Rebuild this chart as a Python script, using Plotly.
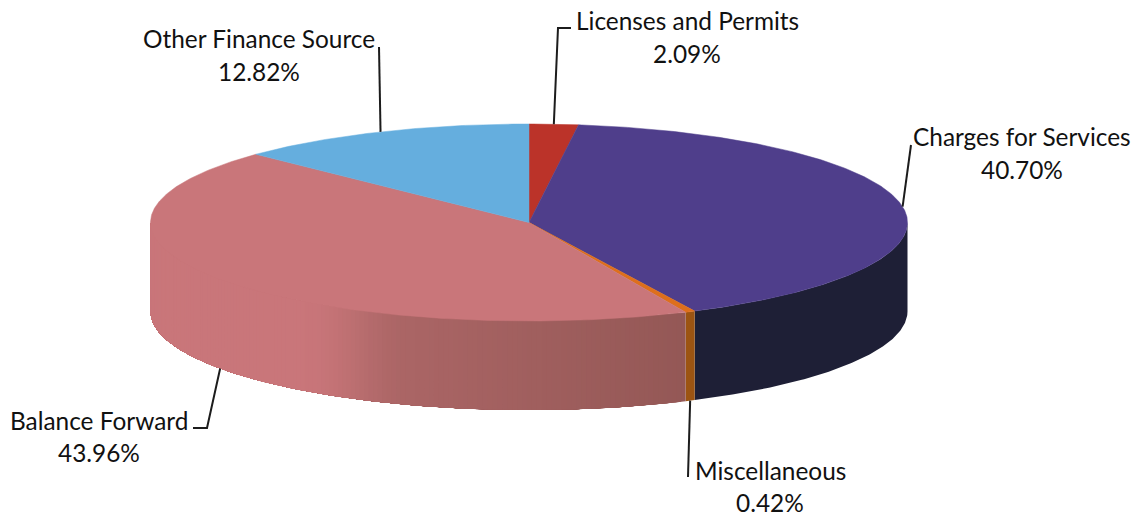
import numpy as np
import plotly.graph_objects as go

# Budget shares, clockwise from twelve o'clock
categories = ["Licenses and Permits", "Charges for Services", "Miscellaneous",
              "Balance Forward", "Other Finance Source"]
shares = [2.09, 40.70, 0.42, 43.96, 12.82]
top_colors = ["#bb3329", "#4f3e8b", "#de6f1c", "#c9767a", "#65aede"]
wall_colors = ["#8a251e", "#1e1f36", "#9c5412", "#a86262", "#3f7fa8"]

# Disc geometry in page pixels
CX, CY, RX, RY, DEPTH = 529.0, 222.5, 378.5, 98.5, 89.0


def rim(turn):
    """Point on the upper rim for an angle in degrees, clockwise from the top."""
    t = np.radians(turn)
    return CX + RX * np.sin(t), CY - RY * np.cos(t)


def mix(a, b, f):
    return tuple(a[i] + (b[i] - a[i]) * f for i in range(3))


def balance_shade(x):
    """Lit part on the left of the wall, falling into shadow towards the front."""
    light, mid, deep = (201, 118, 122), (170, 101, 101), (148, 88, 86)
    if x < 305:
        return light
    if x < 415:
        f = (x - 305) / 110
        return mix(light, mid, f * f * (3 - 2 * f))
    return mix(mid, deep, (x - 415) / 275)


def add_wall(fig, start, stop, color):
    """Wall panel from start to stop; later panels paint over earlier ones."""
    arc = np.linspace(start, stop, max(4, int(stop - start) * 2))
    xs, ys = rim(arc)
    fig.add_trace(go.Scatter(
        x=np.concatenate([xs, xs[::-1]]),
        y=np.concatenate([ys, ys[::-1] + DEPTH]),
        mode="lines", fill="toself", fillcolor=color,
        line=dict(width=0), hoverinfo="skip", showlegend=False))


edges = np.concatenate([[0], np.cumsum(shares)]) * 3.6
edges[-1] = 360
mids = (edges[:-1] + edges[1:]) / 2

fig = go.Figure()

# Side wall, front half only. Painted right to left so each panel overlaps the
# one before it and no background shows through the joints.
for i, name in enumerate(categories):
    lo, hi = max(edges[i], 90), min(edges[i + 1], 270)
    if hi <= lo:
        continue
    if name == "Balance Forward":
        for a in np.arange(lo, hi, 0.75):
            x_here = rim(a + 0.375)[0]
            add_wall(fig, a, hi, "rgb(%d,%d,%d)" % balance_shade(x_here))
    else:
        add_wall(fig, lo, hi, wall_colors[i])

# Top face
for i, name in enumerate(categories):
    arc = np.linspace(edges[i], edges[i + 1], max(3, int(edges[i + 1] - edges[i]) * 2))
    xs, ys = rim(arc)
    fig.add_trace(go.Scatter(
        x=np.concatenate([[CX], xs, [CX]]),
        y=np.concatenate([[CY], ys, [CY]]),
        mode="lines", fill="toself", fillcolor=top_colors[i],
        line=dict(color=top_colors[i], width=0.5), name=name,
        hoverinfo="skip", showlegend=False))

# Leader lines: start at the label, end at the slice's mid-angle on the visible edge
label_elbows = {
    "Licenses and Permits": [(571, 28), (558, 28)],
    "Charges for Services": [(911, 145)],
    "Miscellaneous": [(688, 477)],
    "Balance Forward": [(193, 428), (207, 428)],
    "Other Finance Source": [(379, 47)],
}
for i, name in enumerate(categories):
    ex, ey = rim(mids[i])
    if 90 < mids[i] < 270:
        ey += DEPTH
    pts = label_elbows[name] + [(float(ex), float(ey))]
    fig.add_trace(go.Scatter(
        x=[p[0] for p in pts], y=[p[1] for p in pts], mode="lines",
        line=dict(color="#1c1c1c", width=2), hoverinfo="skip", showlegend=False))

# Two-line labels: (centre x, name line y, value line y)
label_spots = {
    "Licenses and Permits": (687, 20, 53),
    "Charges for Services": (1022, 136, 169),
    "Miscellaneous": (770, 470, 502),
    "Balance Forward": (99, 420, 452),
    "Other Finance Source": (259, 38, 71),
}
annotations = []
for name, share in zip(categories, shares):
    x, y1, y2 = label_spots[name]
    for text, y in ((name, y1), (f"{share:.2f}%", y2)):
        annotations.append(dict(
            x=x, y=y, xref="x", yref="y", text=text, showarrow=False,
            xanchor="center", yanchor="middle",
            font=dict(family="Lato, Carlito, sans-serif", size=24.4, color="#111111")))

fig.update_layout(
    width=1144, height=517, margin=dict(l=0, r=0, t=0, b=0),
    paper_bgcolor="white", plot_bgcolor="white", showlegend=False,
    annotations=annotations,
    xaxis=dict(range=[0, 1144], visible=False, fixedrange=True),
    yaxis=dict(range=[517, 0], visible=False, fixedrange=True),
)
fig.write_html("out.html", config={"displayModeBar": False})
